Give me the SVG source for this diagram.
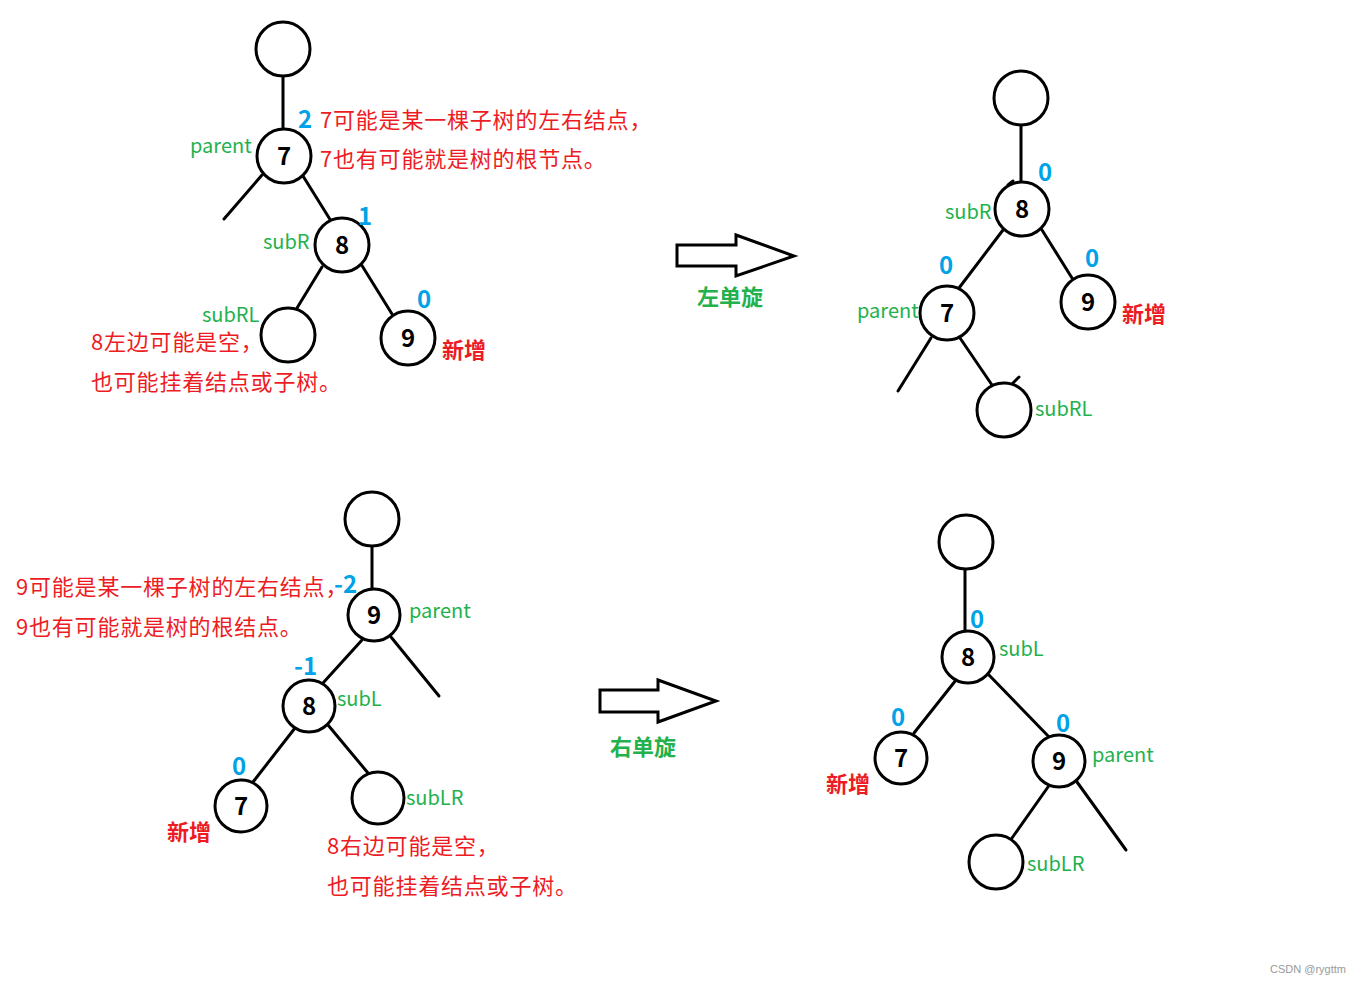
<svg xmlns="http://www.w3.org/2000/svg" width="1362" height="986" viewBox="0 0 1362 986">
<style>
.n{fill:#fff;stroke:#000;stroke-width:3}
.e{stroke:#000;stroke-width:3;fill:none;stroke-linecap:round}
.v{font-family:"Noto Sans CJK SC","Noto Sans",sans-serif;font-weight:bold;font-size:24px;fill:#000;text-anchor:middle}
.b{font-family:"Noto Sans CJK SC","Noto Sans",sans-serif;font-weight:bold;font-size:24px;fill:#00a2e8}
.g{font-family:"Noto Sans CJK SC","Noto Sans",sans-serif;font-size:20px;fill:#22b14c}
.r{font-family:"Noto Sans CJK SC","Noto Sans",sans-serif;font-size:22px;letter-spacing:0.8px;fill:#ed1c24}
.rb{font-family:"Noto Sans CJK SC","Noto Sans",sans-serif;font-size:22px;font-weight:bold;fill:#ed1c24}
.gb{font-family:"Noto Sans CJK SC","Noto Sans",sans-serif;font-size:22px;font-weight:bold;fill:#22b14c}
.ar{fill:#fff;stroke:#000;stroke-width:3;stroke-linejoin:miter}
</style>
<rect width="1362" height="986" fill="#fff"/>
<g id="connectors">
<line class="e" x1="283" y1="76" x2="283" y2="128"/>
<line class="e" x1="262" y1="175" x2="224" y2="219"/>
<line class="e" x1="303" y1="176" x2="331" y2="221"/>
<line class="e" x1="322" y1="267" x2="297" y2="308"/>
<line class="e" x1="361" y1="264" x2="392" y2="314"/>
<line class="e" x1="1021" y1="126" x2="1021" y2="182"/>
<line class="e" x1="1003" y1="230" x2="959" y2="288"/>
<line class="e" x1="1042" y1="230" x2="1072" y2="278"/>
<line class="e" x1="931" y1="338" x2="898" y2="391"/>
<line class="e" x1="960" y1="338" x2="992" y2="385"/>
<line class="e" x1="1013" y1="383" x2="1019" y2="377"/>
<line class="e" x1="1008" y1="185" x2="1013" y2="181"/>
<line class="e" x1="372" y1="546" x2="372" y2="589"/>
<line class="e" x1="391" y1="637" x2="439" y2="696"/>
<line class="e" x1="362" y1="640" x2="323" y2="683"/>
<line class="e" x1="295" y1="728" x2="253" y2="782"/>
<line class="e" x1="328" y1="725" x2="368" y2="773"/>
<line class="e" x1="965" y1="569" x2="965" y2="631"/>
<line class="e" x1="956" y1="680" x2="914" y2="733"/>
<line class="e" x1="988" y1="674" x2="1052" y2="740"/>
<line class="e" x1="1048" y1="787" x2="1012" y2="838"/>
<line class="e" x1="1077" y1="782" x2="1126" y2="850"/>
</g>
<g id="arrow-left-rotate">
<polygon class="ar" points="677,245 736,245 736,235 794,256 736,276 736,266 677,266"/>
<text class="gb" x="730" y="305" text-anchor="middle">左单旋</text>
</g>
<g id="arrow-right-rotate">
<polygon class="ar" points="600,690 658,690 658,680 716,701 658,722 658,712 600,712"/>
<text class="gb" x="643" y="755" text-anchor="middle">右单旋</text>
</g>
<g id="tl-top"><circle class="n" cx="283" cy="49" r="27"/></g>
<g id="tl-7"><circle class="n" cx="284" cy="156" r="27"/><text class="v" x="284" y="165">7</text>
<text class="b" x="298" y="128">2</text><text class="g" x="190" y="153">parent</text></g>
<g id="tl-8"><circle class="n" cx="342" cy="245" r="27"/><text class="v" x="342" y="254">8</text>
<text class="b" x="358" y="225">1</text><text class="g" x="263" y="249">subR</text></g>
<g id="tl-subRL"><circle class="n" cx="288" cy="335" r="27"/><text class="g" x="202" y="322">subRL</text></g>
<g id="tl-9"><circle class="n" cx="408" cy="338" r="27"/><text class="v" x="408" y="347">9</text>
<text class="b" x="417" y="308">0</text><text class="rb" x="442" y="358">新增</text></g>
<g id="tl-notes">
<text class="r" x="91" y="350">8左边可能是空，</text>
<text class="r" x="91" y="390">也可能挂着结点或子树。</text>
<text class="r" x="320" y="128">7可能是某一棵子树的左右结点，</text>
<text class="r" x="320" y="167">7也有可能就是树的根节点。</text>
</g>
<g id="tr-top"><circle class="n" cx="1021" cy="98" r="27"/></g>
<g id="tr-8"><circle class="n" cx="1022" cy="209" r="27"/><text class="v" x="1022" y="218">8</text>
<text class="b" x="1038" y="181">0</text><text class="g" x="945" y="219">subR</text></g>
<g id="tr-7"><circle class="n" cx="947" cy="313" r="27"/><text class="v" x="947" y="322">7</text>
<text class="b" x="939" y="274">0</text><text class="g" x="857" y="318">parent</text></g>
<g id="tr-9"><circle class="n" cx="1088" cy="302" r="27"/><text class="v" x="1088" y="311">9</text>
<text class="b" x="1085" y="267">0</text><text class="rb" x="1122" y="322">新增</text></g>
<g id="tr-subRL"><circle class="n" cx="1004" cy="410" r="27"/><text class="g" x="1035" y="416">subRL</text></g>
<g id="bl-top"><circle class="n" cx="372" cy="519" r="27"/></g>
<g id="bl-9"><circle class="n" cx="374" cy="615" r="26"/><text class="v" x="374" y="624">9</text>
<text class="g" x="409" y="618">parent</text></g>
<g id="bl-notes">
<text class="r" x="16" y="595">9可能是某一棵子树的左右结点，</text>
<text class="r" x="16" y="635">9也有可能就是树的根结点。</text>
<text class="r" x="327" y="854">8右边可能是空，</text>
<text class="r" x="327" y="894">也可能挂着结点或子树。</text>
</g>
<g id="bl-9-bf"><text class="b" x="334" y="593">-2</text></g>
<g id="bl-8"><circle class="n" cx="309" cy="706" r="26"/><text class="v" x="309" y="715">8</text>
<text class="b" x="294" y="675">-1</text><text class="g" x="337" y="706">subL</text></g>
<g id="bl-7"><circle class="n" cx="241" cy="806" r="26"/><text class="v" x="241" y="815">7</text>
<text class="b" x="232" y="775">0</text><text class="rb" x="167" y="840">新增</text></g>
<g id="bl-subLR"><circle class="n" cx="378" cy="798" r="26"/><text class="g" x="406" y="805">subLR</text></g>
<g id="br-top"><circle class="n" cx="966" cy="542" r="27"/></g>
<g id="br-8"><circle class="n" cx="968" cy="657" r="26"/><text class="v" x="968" y="666">8</text>
<text class="b" x="970" y="628">0</text><text class="g" x="999" y="656">subL</text></g>
<g id="br-7"><circle class="n" cx="901" cy="758" r="26"/><text class="v" x="901" y="767">7</text>
<text class="b" x="891" y="726">0</text><text class="rb" x="826" y="792">新增</text></g>
<g id="br-9"><circle class="n" cx="1059" cy="761" r="26"/><text class="v" x="1059" y="770">9</text>
<text class="b" x="1056" y="732">0</text><text class="g" x="1092" y="762">parent</text></g>
<g id="br-subLR"><circle class="n" cx="996" cy="862" r="27"/><text class="g" x="1027" y="871">subLR</text></g>
<text x="1346" y="973" font-family="'Liberation Sans',sans-serif" font-size="11" fill="#999" text-anchor="end">CSDN @rygttm</text>
</svg>
